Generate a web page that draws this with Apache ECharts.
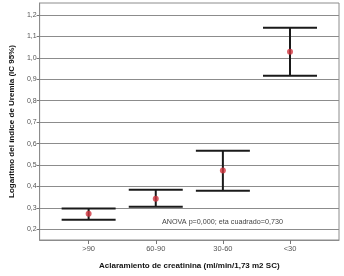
<!DOCTYPE html>
<html>
<head>
<meta charset="utf-8">
<script src="https://cdn.jsdelivr.net/npm/echarts@6/dist/echarts.min.js"></script>
<style>
    html, body { margin: 0; padding: 0; background: #fff; }
    #chart { width: 344px; height: 276px; }
</style>
</head>
<body>
<div id="chart"></div>
<script>
// categorías de aclaramiento
var categories = ['>90', '60-90', '30-60', '<30'];
// media e IC 95%
var means = [0.272, 0.343, 0.474, 1.028];
var lower = [0.245, 0.305, 0.380, 0.916];
var upper = [0.297, 0.385, 0.567, 1.140];
var yTicks = [0.2, 0.3, 0.4, 0.5, 0.6, 0.7, 0.8, 0.9, 1.0, 1.1, 1.2];

var chart = echarts.init(document.getElementById('chart'));

function fmt(v) {
    return v.toFixed(1).replace('.', ',');
}

var option = {
    animation: false,
    backgroundColor: '#fff',
    textStyle: { fontFamily: 'Liberation Sans, Arial, sans-serif' },
    grid: {
        left: 34,
        right: 5,
        top: 3,
        bottom: 36,
        show: true,
        borderColor: '#8c8c8c',
        borderWidth: 1
    },
    xAxis: {
        type: 'value',
        min: -0.73,
        max: 3.73,
        name: 'Aclaramiento de creatinina (ml/min/1,73 m2 SC)',
        nameLocation: 'middle',
        nameGap: 22,
        nameTextStyle: { fontSize: 8, fontWeight: 'bold', color: '#111' },
        axisLine: { show: true, onZero: false, lineStyle: { color: '#8c8c8c' } },
        axisTick: { show: true, length: 4, customValues: [0, 1, 2, 3], lineStyle: { color: '#777' } },
        axisLabel: {
            customValues: [0, 1, 2, 3],
            fontSize: 7.5,
            color: '#555',
            margin: 5,
            formatter: function(v) { return categories[Math.round(v)]; }
        },
        splitLine: { show: false }
    },
    yAxis: {
        type: 'value',
        min: 0.15,
        max: 1.256,
        name: 'Logaritmo del índice de Uremia (IC 95%)',
        nameLocation: 'middle',
        nameGap: 21,
        nameRotate: 90,
        nameTextStyle: { fontSize: 8, fontWeight: 'bold', color: '#111' },
        axisLine: { show: true, onZero: false, lineStyle: { color: '#8c8c8c' } },
        axisTick: { show: true, length: 3, customValues: yTicks, lineStyle: { color: '#777' } },
        axisLabel: {
            customValues: yTicks,
            fontSize: 7,
            color: '#555',
            margin: 3,
            formatter: fmt
        },
        splitLine: { show: true, lineStyle: { color: '#8c8c8c', width: 1 } }
    },
    series: [
        {
            type: 'custom',
            data: categories.map(function(c, i) { return [i, lower[i], upper[i]]; }),
            renderItem: function(params, api) {
                var x = api.value(0);
                var lo = api.coord([x, api.value(1)]);
                var hi = api.coord([x, api.value(2)]);
                var half = 27;
                var style = { stroke: '#1a1a1a', lineWidth: 2 };
                return {
                    type: 'group',
                    children: [
                        { type: 'line', shape: { x1: lo[0], y1: lo[1], x2: hi[0], y2: hi[1] }, style: style },
                        { type: 'line', shape: { x1: hi[0] - half, y1: hi[1], x2: hi[0] + half, y2: hi[1] }, style: style },
                        { type: 'line', shape: { x1: lo[0] - half, y1: lo[1], x2: lo[0] + half, y2: lo[1] }, style: style }
                    ]
                };
            },
            z: 3
        },
        {
            type: 'scatter',
            data: means.map(function(m, i) { return [i, m]; }),
            symbol: 'circle',
            symbolSize: 6,
            itemStyle: { color: '#d0343f' },
            z: 4
        }
    ],
    graphic: [
        {
            type: 'text',
            left: 162,
            top: 219,
            style: {
                text: 'ANOVA p=0,000; eta cuadrado=0,730',
                fontSize: 7.2,
                fill: '#444',
                fontFamily: 'Liberation Sans, Arial, sans-serif'
            },
            z: 10
        }
    ]
};

chart.setOption(option);
</script>
</body>
</html>
